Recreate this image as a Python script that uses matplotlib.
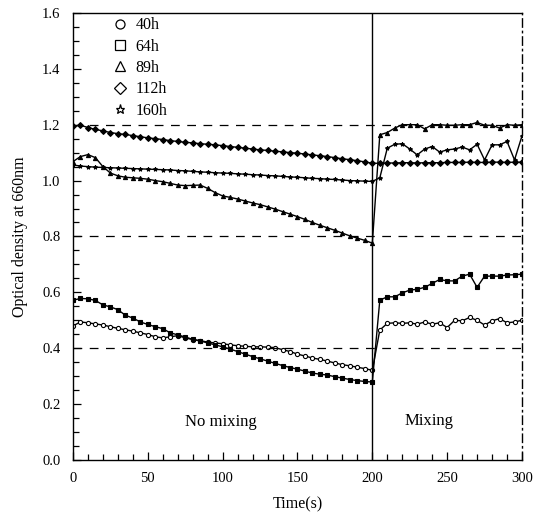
import numpy as np
import matplotlib
matplotlib.use("Agg")
import matplotlib.pyplot as plt
from matplotlib.lines import Line2D
from matplotlib.ticker import MultipleLocator

plt.rcParams["font.family"] = ["Liberation Serif", "DejaVu Serif"]

# sampling times (s): before mixing and after mixing
t_pre = np.arange(0, 205, 5)
t_post = np.arange(205, 305, 5)

# optical density readings at 660 nm
od_40h_pre = [0.480, 0.494, 0.491, 0.487, 0.483, 0.477, 0.471, 0.466, 0.461, 0.455,
              0.449, 0.441, 0.437, 0.441, 0.445, 0.437, 0.431, 0.427, 0.422, 0.419,
              0.416, 0.412, 0.409, 0.407, 0.405, 0.405, 0.404, 0.402, 0.395, 0.388,
              0.379, 0.372, 0.365, 0.360, 0.354, 0.347, 0.341, 0.337, 0.332, 0.327,
              0.321]
od_40h_post = [0.465, 0.489, 0.491, 0.489, 0.491, 0.486, 0.494, 0.486, 0.491, 0.474,
               0.500, 0.498, 0.510, 0.500, 0.483, 0.498, 0.506, 0.491, 0.494, 0.500]

od_64h_pre = [0.572, 0.578, 0.577, 0.571, 0.555, 0.548, 0.538, 0.518, 0.508, 0.494,
              0.485, 0.477, 0.470, 0.455, 0.448, 0.440, 0.432, 0.426, 0.419, 0.412,
              0.405, 0.397, 0.388, 0.379, 0.370, 0.362, 0.354, 0.346, 0.338, 0.331,
              0.325, 0.318, 0.311, 0.307, 0.304, 0.298, 0.293, 0.288, 0.284, 0.281,
              0.279]
od_64h_post = [0.572, 0.584, 0.584, 0.598, 0.608, 0.611, 0.618, 0.632, 0.646, 0.641,
               0.641, 0.658, 0.665, 0.618, 0.658, 0.658, 0.658, 0.662, 0.663, 0.665]

od_89h_pre = [1.068, 1.086, 1.093, 1.082, 1.050, 1.027, 1.017, 1.012, 1.010, 1.008,
              1.005, 1.000, 0.996, 0.990, 0.984, 0.982, 0.983, 0.984, 0.972, 0.957,
              0.945, 0.940, 0.934, 0.927, 0.920, 0.914, 0.906, 0.898, 0.889, 0.880,
              0.871, 0.861, 0.850, 0.840, 0.831, 0.822, 0.812, 0.802, 0.794, 0.786,
              0.776]
od_89h_post = [1.164, 1.172, 1.188, 1.200, 1.200, 1.200, 1.185, 1.200, 1.200, 1.198,
               1.198, 1.200, 1.200, 1.208, 1.198, 1.198, 1.188, 1.200, 1.198, 1.200]

od_112h_pre = [1.195, 1.198, 1.190, 1.183, 1.178, 1.172, 1.168, 1.165, 1.161, 1.157,
               1.153, 1.150, 1.147, 1.143, 1.140, 1.137, 1.135, 1.132, 1.130, 1.128,
               1.125, 1.122, 1.119, 1.116, 1.113, 1.110, 1.108, 1.105, 1.103, 1.100,
               1.098, 1.095, 1.092, 1.089, 1.086, 1.082, 1.078, 1.075, 1.071, 1.067,
               1.062]
od_112h_post = [1.062, 1.063, 1.063, 1.064, 1.064, 1.063, 1.064, 1.064, 1.064, 1.065,
                1.065, 1.065, 1.066, 1.065, 1.065, 1.066, 1.066, 1.065, 1.066, 1.066]

od_160h_pre = [1.056, 1.052, 1.050, 1.048, 1.047, 1.046, 1.045, 1.044, 1.043, 1.042,
               1.041, 1.040, 1.039, 1.038, 1.036, 1.035, 1.033, 1.031, 1.030, 1.028,
               1.027, 1.026, 1.024, 1.023, 1.021, 1.020, 1.018, 1.017, 1.015, 1.013,
               1.012, 1.010, 1.008, 1.007, 1.005, 1.004, 1.002, 1.000, 0.999, 0.998,
               0.997]
od_160h_post = [1.010, 1.116, 1.130, 1.132, 1.113, 1.092, 1.113, 1.122, 1.102, 1.110,
                1.113, 1.120, 1.110, 1.130, 1.074, 1.128, 1.128, 1.140, 1.074, 1.160]

labels = ["40h", "64h", "89h", "112h", "160h"]
markers = ["o", "s", "^", "D", "*"]

series = [
    (od_40h_pre, od_40h_post),
    (od_64h_pre, od_64h_post),
    (od_89h_pre, od_89h_post),
    (od_112h_pre, od_112h_post),
    (od_160h_pre, od_160h_post),
]

t_all = np.concatenate([t_pre, t_post])

fig = plt.figure(figsize=(5.35, 5.18), dpi=100)
ax = fig.add_axes([0.1364, 0.112, 0.8393, 0.863])

for (pre, post), m in zip(series, markers):
    y = np.concatenate([pre, post])
    face = "white" if m == "o" else "black"
    ax.plot(t_all, y, color="black", lw=1.0, marker=m, ms=3.0,
            mfc=face, mec="black", mew=0.8)

# reference lines
for yv in [0.4, 0.8, 1.2]:
    ax.axhline(yv, color="black", lw=0.9, ls=(0, (7, 6)))
ax.axvline(200, color="black", lw=1.0)

ax.text(99, 0.135, "No mixing", ha="center", va="center", fontsize=12)
ax.text(238, 0.14, "Mixing", ha="center", va="center", fontsize=12)

ax.set_xlim(0, 300)
ax.set_ylim(0, 1.6)
ax.xaxis.set_major_locator(MultipleLocator(50))
ax.xaxis.set_minor_locator(MultipleLocator(10))
ax.yaxis.set_major_locator(MultipleLocator(0.2))
ax.yaxis.set_minor_locator(MultipleLocator(0.05))
ax.yaxis.set_major_formatter(matplotlib.ticker.FormatStrFormatter("%.1f"))
ax.tick_params(which="both", direction="in", top=False, right=False,
               labelsize=10.5, width=0.9)
ax.tick_params(which="major", length=6, pad=9)
ax.tick_params(which="minor", length=4)
ax.spines["right"].set_linestyle((0, (6, 3, 1, 3)))
for s in ax.spines.values():
    s.set_linewidth(1.0)

ax.set_xlabel("Time(s)", fontsize=11.5, labelpad=8)
ax.set_ylabel("Optical density at 660nm", fontsize=11.5, labelpad=10)

handles = [Line2D([], [], ls="none", marker=m, ms=6.5, mfc="white", mec="black",
                  mew=0.9) for m in markers]
ax.legend(handles, labels, loc="upper left", bbox_to_anchor=(0.065, 1.012),
          frameon=False, fontsize=11.5, handlelength=1.0, handletextpad=0.5,
          labelspacing=0.34, borderaxespad=0.2)

fig.savefig("out.png", dpi=100)
